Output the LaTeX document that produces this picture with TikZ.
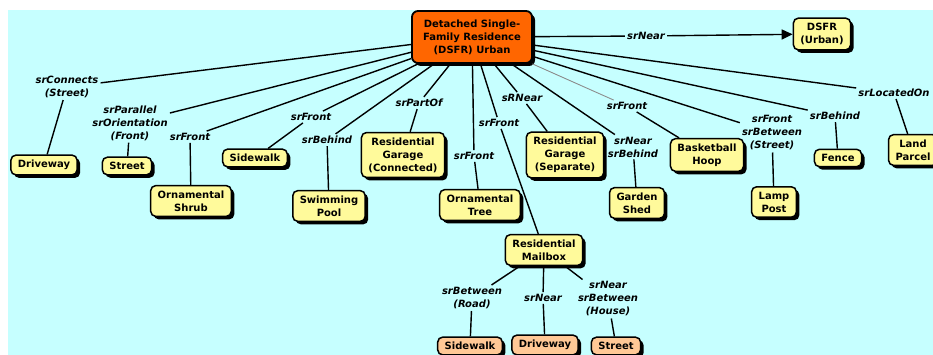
\documentclass[tikz,border=0pt]{standalone}
\usepackage{fontspec}
\newfontfamily\cmapfont{DejaVu Sans}[BoldFont={DejaVu Sans Bold},BoldItalicFont={DejaVu Sans Bold Oblique}]
\usetikzlibrary{shadows,arrows.meta,positioning}
\definecolor{mapbg}{RGB}{198,255,255}
\definecolor{conceptyellow}{RGB}{255,250,155}
\definecolor{rootorange}{RGB}{255,102,0}
\definecolor{leafpeach}{RGB}{255,200,150}
\begin{document}
\begin{tikzpicture}[x=1pt, y=-1pt,
  concept/.style={draw, line width=1.5pt, rounded corners=5pt, fill=conceptyellow,
    align=center, inner xsep=7pt, inner ysep=5pt,
    font={\cmapfont\bfseries\fontsize{10}{13}\selectfont},
    drop shadow={shadow xshift=3pt, shadow yshift=-3pt, fill=black, opacity=1}},
  rootconcept/.style={concept, fill=rootorange, line width=1.8pt, rounded corners=6pt,
    minimum width=120pt, minimum height=52pt},
  leaf/.style={concept, fill=leafpeach},
  link/.style={align=center, inner sep=2pt,
    font={\cmapfont\bfseries\itshape\fontsize{10}{13}\selectfont}},
  wire/.style={line width=1.4pt}]
  \useasboundingbox (0,0) rectangle (933,355);
  \fill[mapbg] (8,10) rectangle (933,355);

  % concepts
  \node[rootconcept] (root) at (472,37) {Detached Single-\\Family Residence\\(DSFR) Urban};
  \node[concept] (urban) at (822,34) {DSFR\\(Urban)};
  \node[concept] (driveway) at (44,165) {Driveway};
  \node[concept] (street) at (127,166) {Street};
  \node[concept] (shrub) at (191,201) {Ornamental\\Shrub};
  \node[concept] (sidewalk) at (255,158) {Sidewalk};
  \node[concept] (pool) at (329,206) {Swimming\\Pool};
  \node[concept] (garageC) at (403,155) {Residential\\Garage\\(Connected)};
  \node[concept] (tree) at (480,205) {Ornamental\\Tree};
  \node[concept] (garageS) at (565,155) {Residential\\Garage\\(Separate)};
  \node[concept] (shed) at (637,203) {Garden\\Shed};
  \node[concept] (hoop) at (707,155) {Basketball\\Hoop};
  \node[concept] (lamp) at (774,202) {Lamp\\Post};
  \node[concept] (fence) at (838,158) {Fence};
  \node[concept] (parcel) at (913,150) {Land\\Parcel};
  \node[concept] (mailbox) at (544,250) {Residential\\Mailbox};
  \node[leaf] (sidewalkB) at (470,346) {Sidewalk};
  \node[leaf] (drivewayB) at (545,345) {Driveway};
  \node[leaf] (streetB) at (616,346) {Street};

  % linking phrases
  \node[link] (lNear) at (646,36) {srNear};
  \node[link] (lConnects) at (67,87) {srConnects\\(Street)};
  \node[link] (lParallel) at (130,123) {srParallel\\srOrientation\\(Front)};
  \node[link] (lShrub) at (190,137) {srFront};
  \node[link] (lSidewalk) at (311,117) {srFront};
  \node[link] (lPool) at (327,140) {srBehind};
  \node[link] (lPartOf) at (419,103) {srPartOf};
  \node[link] (lTree) at (474,156) {srFront};
  \node[link] (lMailbox) at (499,123) {srFront};
  \node[link] (lRNear) at (522,98) {sRNear};
  \node[link] (lShed) at (633,147) {srNear\\srBehind};
  \node[link] (lHoop) at (627,106) {srFront};
  \node[link] (lLamp) at (772,133) {srFront\\srBetween\\(Street)};
  \node[link] (lFence) at (835,116) {srBehind};
  \node[link] (lLocated) at (894,93) {srLocatedOn};
  \node[link] (lRoad) at (472,298) {srBetween\\(Road)};
  \node[link] (lDrive) at (543,298) {srNear};
  \node[link] (lHouse) at (608,299) {srNear\\srBetween\\(House)};

  % connections
  \draw[wire] (root) -- (lNear);
  \draw[wire, -{Triangle[length=11pt, width=10pt]}] (lNear) -- (urban);
  \foreach \lab/\dst in {lConnects/driveway, lParallel/street, lShrub/shrub,
      lSidewalk/sidewalk, lPool/pool, lPartOf/garageC, lTree/tree, lMailbox/mailbox,
      lRNear/garageS, lShed/shed, lLamp/lamp, lFence/fence, lLocated/parcel}
    \draw[wire] (root) -- (\lab) (\lab) -- (\dst);
  \draw[black!45, line width=0.9pt] (root) -- (lHoop);
  \draw[wire] (lHoop) -- (hoop);
  \foreach \lab/\dst in {lRoad/sidewalkB, lDrive/drivewayB, lHouse/streetB}
    \draw[wire] (mailbox) -- (\lab) (\lab) -- (\dst);
\end{tikzpicture}
\end{document}
